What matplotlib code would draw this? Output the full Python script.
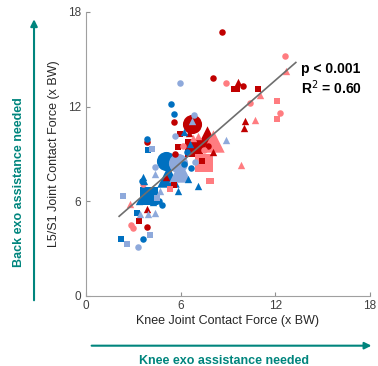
import matplotlib
matplotlib.use("Agg")
import matplotlib.pyplot as plt

# colours of the four groups
dark_red = "#C00000"
light_red = "#FF7C80"
dark_blue = "#0070C0"
light_blue = "#8EA9DB"
teal = "#00857D"

# small points: (knee force, L5/S1 force)
dr_circ_x = [8.63, 8.02, 9.94, 5.55, 7.74, 3.86, 5.65, 3.88]
dr_circ_y = [16.76, 13.84, 13.29, 11.03, 9.48, 9.78, 8.98, 4.40]
dr_sq_x = [9.37, 9.60, 10.91, 5.97, 5.80, 7.38, 5.59, 3.38]
dr_sq_y = [13.14, 13.14, 13.12, 10.24, 9.44, 8.57, 7.02, 4.77]
dr_tri_x = [9.64, 10.06, 10.00, 6.50, 8.06, 5.06, 3.86]
dr_tri_y = [13.54, 11.09, 10.62, 10.35, 9.10, 7.55, 5.50]

lr_circ_x = [12.59, 8.86, 10.42, 12.30, 6.16, 7.49, 3.59, 2.83, 2.95]
lr_circ_y = [15.20, 13.52, 12.23, 11.60, 9.48, 9.27, 7.07, 4.51, 4.28]
lr_sq_x = [12.09, 12.09, 7.80, 7.95, 5.32]
lr_sq_y = [12.36, 11.20, 7.30, 7.26, 6.80]
lr_tri_x = [12.68, 11.01, 10.74, 9.81, 6.81, 7.11, 2.81]
lr_tri_y = [14.24, 12.76, 11.13, 8.30, 10.03, 10.12, 5.84]

db_circ_x = [5.36, 5.59, 3.84, 6.43, 6.20, 6.65, 3.54, 4.62, 4.79, 3.59]
db_circ_y = [12.19, 11.56, 9.92, 9.10, 8.34, 8.13, 7.26, 6.05, 5.78, 3.62]
db_sq_x = [3.95, 3.25, 2.24]
db_sq_y = [9.23, 5.29, 3.64]
db_tri_x = [6.20, 6.60, 3.59, 3.67, 6.48, 7.13, 5.86, 3.35, 4.24]
db_tri_y = [10.37, 9.65, 7.55, 7.30, 7.43, 7.00, 6.63, 6.03, 5.93]

lb_circ_x = [5.95, 6.86, 5.63, 6.94, 4.39, 3.31]
lb_circ_y = [13.50, 11.47, 10.16, 8.49, 8.15, 3.11]
lb_sq_x = [4.18, 4.47, 2.34, 2.59, 4.07]
lb_sq_y = [9.31, 6.20, 6.31, 3.30, 3.89]
lb_tri_x = [6.75, 8.88, 4.37, 4.70, 3.44, 3.95, 4.39]
lb_tri_y = [11.10, 9.90, 7.75, 6.65, 5.21, 5.19, 5.25]

# group means (large markers)
big_x = [5.08, 5.84, 5.21, 5.95, 4.00, 6.69, 7.70, 6.84, 8.02, 7.45]
big_y = [8.53, 8.42, 7.60, 7.90, 6.35, 10.92, 10.10, 9.38, 9.80, 8.42]
big_c = [dark_blue, light_blue, dark_blue, light_blue, dark_blue,
         dark_red, dark_red, dark_red, light_red, light_red]
big_m = ["o", "o", "^", "^", "s", "o", "^", "s", "^", "s"]

# regression line end points
fit_x = [2.1, 13.3]
fit_y = [5.05, 14.8]

ticks = [0, 6, 12, 18]

#############   plot   #############

plt.rcParams["font.family"] = ["Liberation Sans", "DejaVu Sans"]

fig = plt.figure(figsize=(3.78, 3.66), dpi=100)
ax = fig.add_axes([0.2275, 0.1913, 0.7513, 0.776])

big_size = {"o": 190, "s": 150, "^": 260}
for x, y, c, m in zip(big_x, big_y, big_c, big_m):
    ax.scatter(x, y, s=big_size[m], c=c, marker=m, linewidths=0, zorder=2)

small = [
    (dr_circ_x, dr_circ_y, dark_red, "o"),
    (dr_sq_x, dr_sq_y, dark_red, "s"),
    (dr_tri_x, dr_tri_y, dark_red, "^"),
    (lr_circ_x, lr_circ_y, light_red, "o"),
    (lr_sq_x, lr_sq_y, light_red, "s"),
    (lr_tri_x, lr_tri_y, light_red, "^"),
    (db_circ_x, db_circ_y, dark_blue, "o"),
    (db_sq_x, db_sq_y, dark_blue, "s"),
    (db_tri_x, db_tri_y, dark_blue, "^"),
    (lb_circ_x, lb_circ_y, light_blue, "o"),
    (lb_sq_x, lb_sq_y, light_blue, "s"),
    (lb_tri_x, lb_tri_y, light_blue, "^"),
]
for xs, ys, c, m in small:
    ax.scatter(xs, ys, s=22 if m != "^" else 28, c=c, marker=m, linewidths=0, zorder=3)

ax.plot(fit_x, fit_y, color="#6E6E6E", lw=1.2, zorder=4)

ax.set_xlim(0, 18)
ax.set_ylim(0, 18)
ax.set_xticks(ticks)
ax.set_yticks(ticks)
ax.tick_params(direction="in", length=3, color="#909090", labelsize=8.5,
               labelcolor="#404040")
ax.tick_params(axis="x", pad=3)
for s in ["top", "right"]:
    ax.spines[s].set_visible(False)
for s in ["left", "bottom"]:
    ax.spines[s].set_color("#A0A0A0")
    ax.spines[s].set_linewidth(0.8)

ax.set_xlabel("Knee Joint Contact Force (x BW)", fontsize=9, color="#262626", labelpad=2)
ax.set_ylabel("L5/S1 Joint Contact Force (x BW)", fontsize=9, color="#262626", labelpad=6)

ax.text(0.757, 0.80, "p < 0.001", transform=ax.transAxes, fontsize=10,
        fontweight="bold", ha="left", va="center")
ax.text(0.757, 0.733, "R$^2$ = 0.60", transform=ax.transAxes, fontsize=10,
        fontweight="bold", ha="left", va="center")

# arrows for exo assistance
fig.patches.append(matplotlib.patches.FancyArrowPatch(
    (0.235, 0.0555), (0.990, 0.0555), transform=fig.transFigure,
    arrowstyle="-|>,head_length=4,head_width=2", color=teal, lw=1.5))
fig.text(0.593, 0.014, "Knee exo assistance needed", color=teal, fontsize=9,
         fontweight="bold", ha="center", va="center")

fig.patches.append(matplotlib.patches.FancyArrowPatch(
    (0.09, 0.172), (0.09, 0.955), transform=fig.transFigure,
    arrowstyle="-|>,head_length=4,head_width=2", color=teal, lw=1.5))
fig.text(0.05, 0.503, "Back exo assistance needed", color=teal, fontsize=9,
         fontweight="bold", ha="center", va="center", rotation=90)

fig.savefig("out.png", dpi=100)
